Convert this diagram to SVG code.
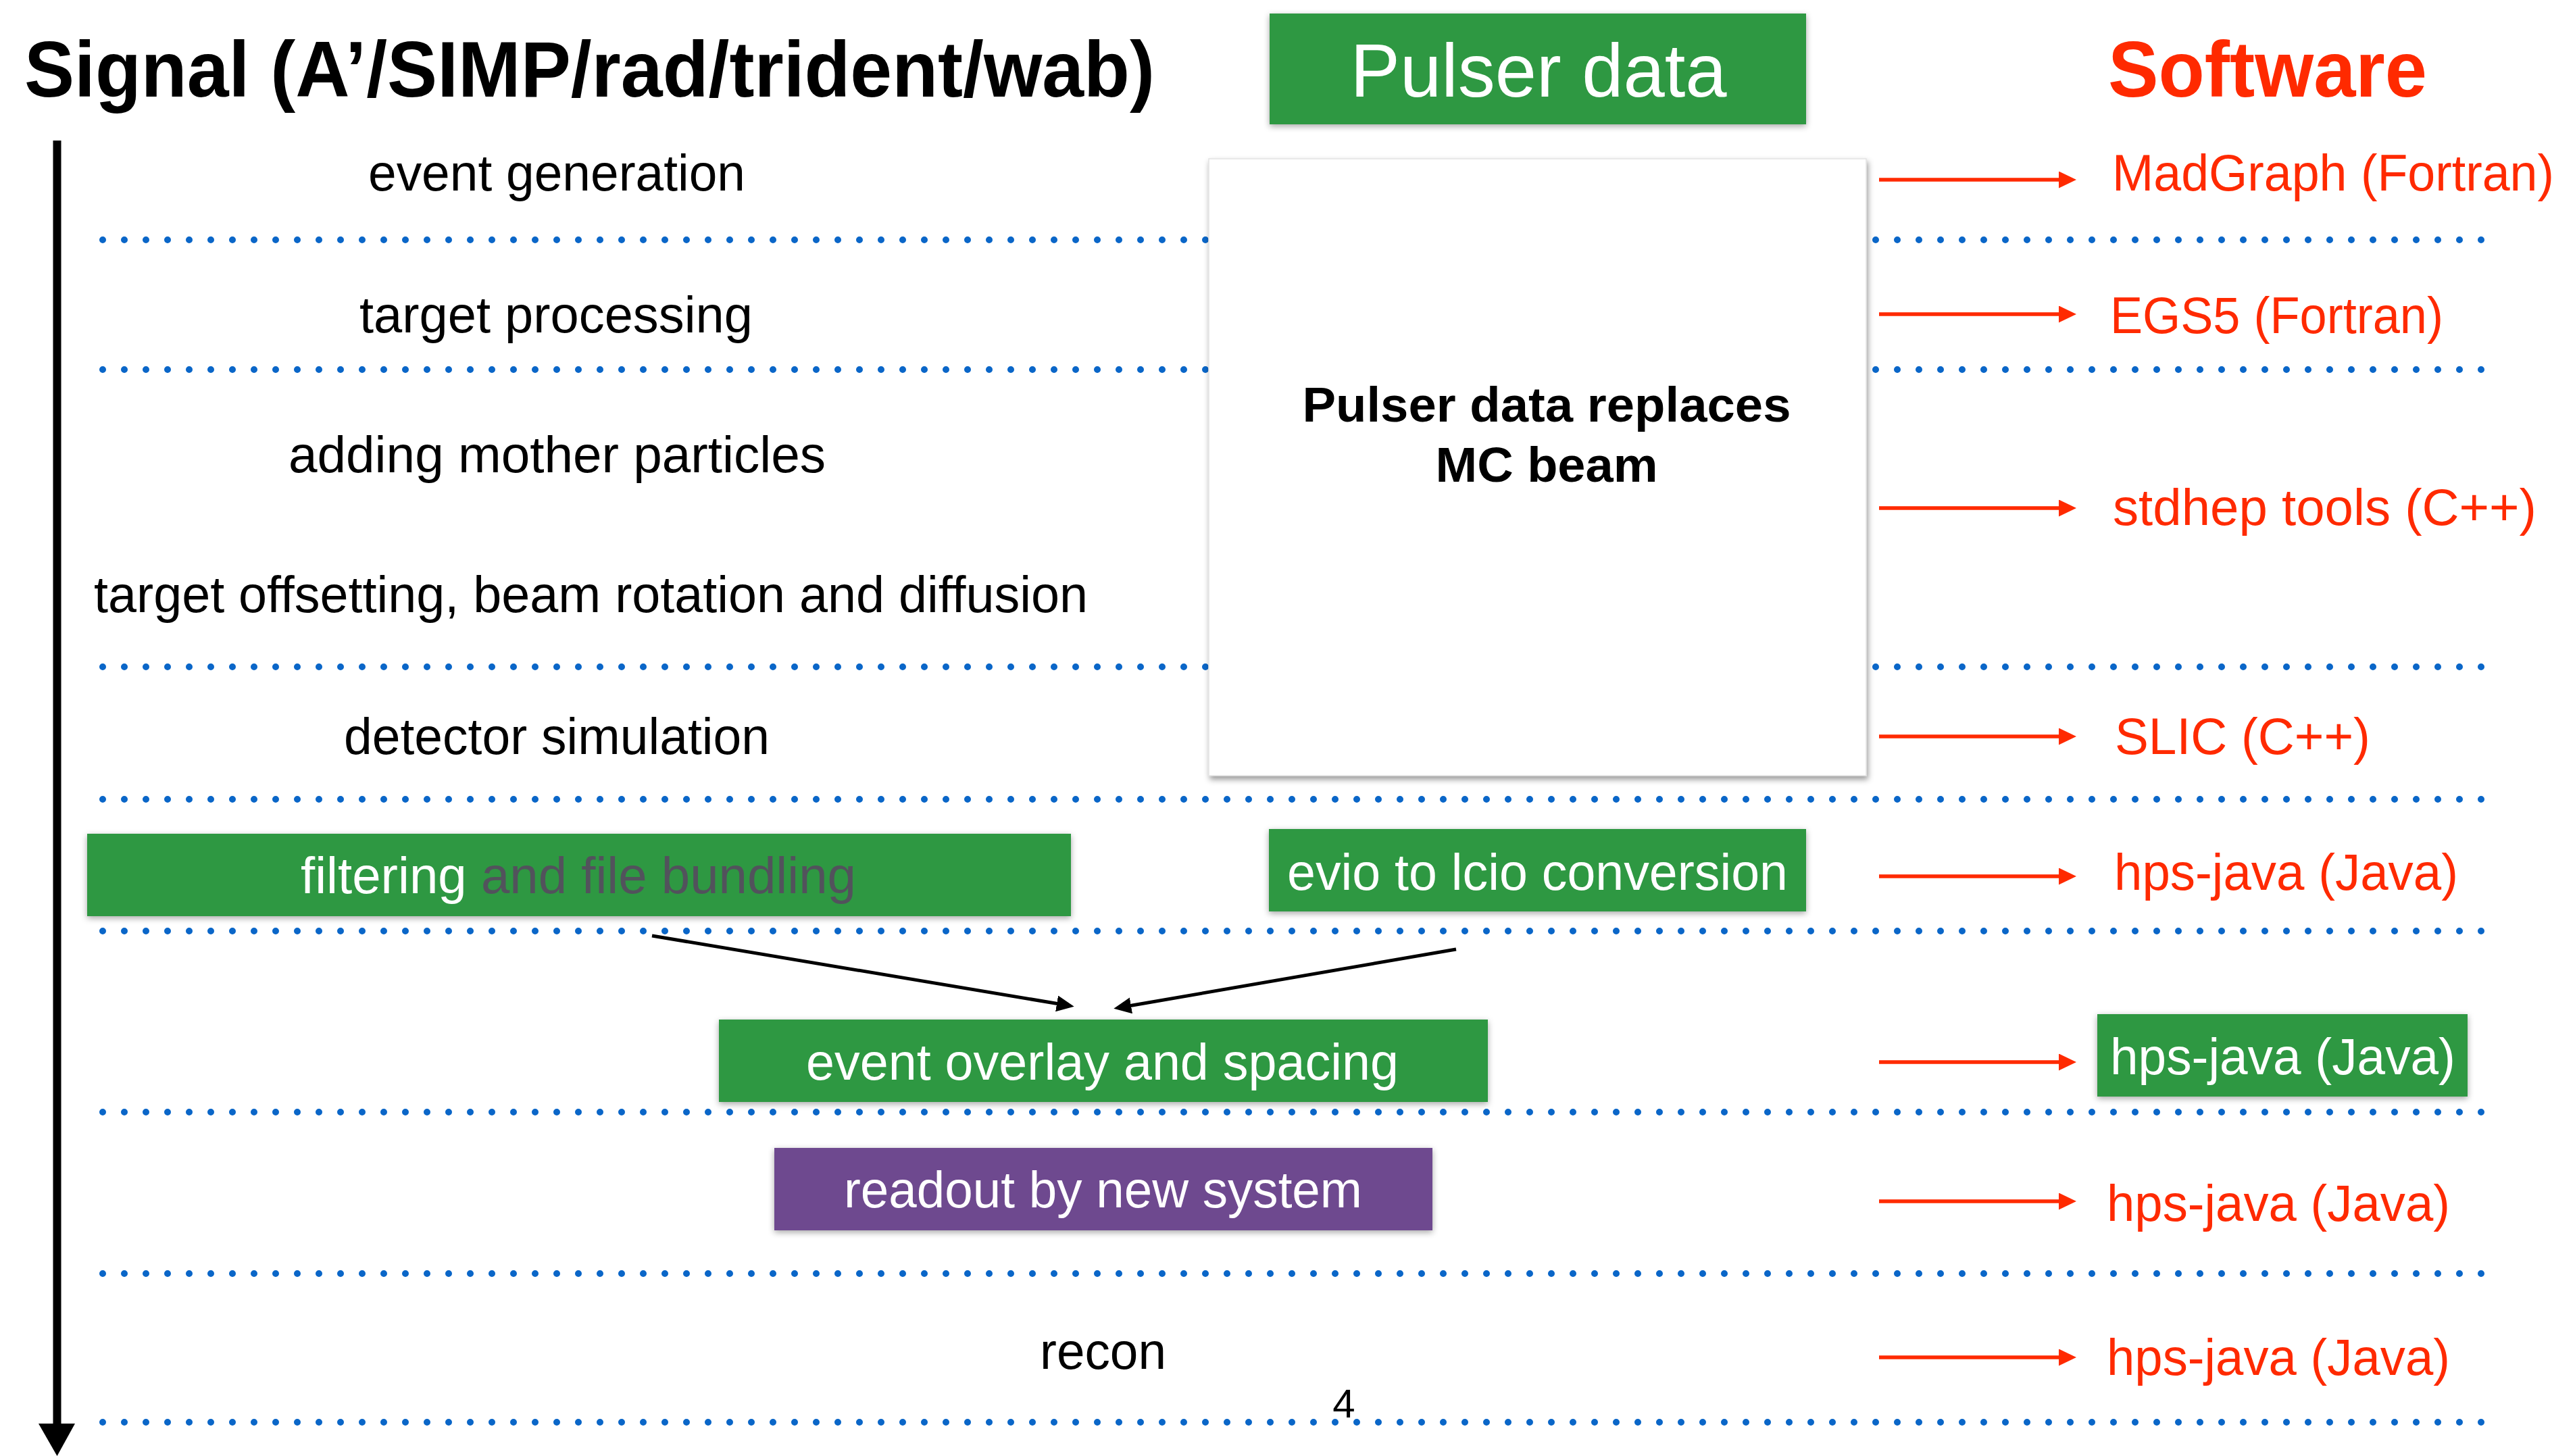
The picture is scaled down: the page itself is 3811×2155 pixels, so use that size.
<svg xmlns="http://www.w3.org/2000/svg" width="3811" height="2155" viewBox="0 0 3811 2155">
  <style>
    .title { font-family: "Liberation Sans", Arial, sans-serif; font-weight: bold; font-size: 116px; }
    .step { font-family: "Liberation Sans", Arial, sans-serif; font-size: 76px; fill: #000; }
    .soft { font-family: "Liberation Sans", Arial, sans-serif; font-size: 76px; fill: #ff2a00; }
    .onbox { font-family: "Liberation Sans", Arial, sans-serif; font-size: 76px; fill: #fff; }
    .note { font-family: "Liberation Sans", Arial, sans-serif; font-weight: bold; font-size: 72px; fill: #000; }
    .sep { stroke: #0a66c8; stroke-width: 10; stroke-linecap: round; stroke-dasharray: 0 32; fill: none; }
    .green { fill: #2f9843; }
    .purple { fill: #6e4a8f; }
    .redline { stroke: #ff2a00; stroke-width: 5.5; fill: none; }
    .blackline { stroke: #000; stroke-width: 5; fill: none; }
  </style>
  <defs>
    <filter id="boxShadow" x="-5%" y="-20%" width="110%" height="150%">
      <feDropShadow dx="0" dy="3" stdDeviation="5" flood-color="#000" flood-opacity="0.35"/>
    </filter>
    <filter id="cardShadow" x="-5%" y="-5%" width="110%" height="110%">
      <feDropShadow dx="2" dy="5" stdDeviation="4" flood-color="#000" flood-opacity="0.4"/>
    </filter>
    <marker id="redHead" markerUnits="userSpaceOnUse" markerWidth="28" markerHeight="26" refX="2" refY="12.5" orient="auto">
      <path d="M0,0 L26,12.5 L0,25 Z" fill="#ff2a00"/>
    </marker>
    <marker id="blackHead" markerUnits="userSpaceOnUse" markerWidth="28" markerHeight="26" refX="4" refY="12" orient="auto">
      <path d="M0,0 L26,12 L0,24 Z" fill="#000"/>
    </marker>
  </defs>

  <rect width="3811" height="2155" fill="#fff"/>

  <!-- column headings -->
  <text class="title" x="36" y="143" textLength="1673" lengthAdjust="spacingAndGlyphs">Signal (A’/SIMP/rad/trident/wab)</text>
  <text class="title" x="3120" y="143" fill="#ff2a00" textLength="472" lengthAdjust="spacingAndGlyphs">Software</text>

  <!-- time axis -->
  <g id="time-axis">
    <line x1="84.5" y1="208" x2="84.5" y2="2110" stroke="#000" stroke-width="12"/>
    <polygon points="57,2107 111,2107 84.5,2155" fill="#000"/>
  </g>

  <!-- stage separators -->
  <g id="separators">
    <line class="sep" x1="152" y1="355" x2="3676" y2="355"/>
    <line class="sep" x1="152" y1="547" x2="3676" y2="547"/>
    <line class="sep" x1="152" y1="987" x2="3676" y2="987"/>
    <line class="sep" x1="152" y1="1183" x2="3676" y2="1183"/>
    <line class="sep" x1="152" y1="1378" x2="3676" y2="1378"/>
    <line class="sep" x1="152" y1="1646" x2="3676" y2="1646"/>
    <line class="sep" x1="152" y1="1885" x2="3676" y2="1885"/>
    <line class="sep" x1="152" y1="2105" x2="3676" y2="2105"/>
  </g>

  <!-- simulation steps -->
  <g id="step-event-generation">
    <text class="step" x="545" y="282" textLength="558" lengthAdjust="spacingAndGlyphs">event generation</text>
  </g>
  <g id="step-target-processing">
    <text class="step" x="532" y="492" textLength="582" lengthAdjust="spacingAndGlyphs">target processing</text>
  </g>
  <g id="step-mother-particles">
    <text class="step" x="427" y="699" textLength="795" lengthAdjust="spacingAndGlyphs">adding mother particles</text>
  </g>
  <g id="step-offsetting">
    <text class="step" x="139" y="906" textLength="1471" lengthAdjust="spacingAndGlyphs">target offsetting, beam rotation and diffusion</text>
  </g>
  <g id="step-detector-simulation">
    <text class="step" x="509" y="1116" textLength="630" lengthAdjust="spacingAndGlyphs">detector simulation</text>
  </g>
  <g id="step-filtering">
    <rect class="green" x="129" y="1234" width="1456" height="122" filter="url(#boxShadow)"/>
    <text class="onbox" x="445" y="1322" textLength="822" lengthAdjust="spacingAndGlyphs">filtering <tspan fill="#52525c">and file bundling</tspan></text>
  </g>
  <g id="step-overlay">
    <rect class="green" x="1064" y="1509" width="1138" height="122" filter="url(#boxShadow)"/>
    <text class="onbox" x="1193" y="1598" textLength="877" lengthAdjust="spacingAndGlyphs">event overlay and spacing</text>
  </g>
  <g id="step-readout">
    <rect class="purple" x="1146" y="1699" width="974" height="122" filter="url(#boxShadow)"/>
    <text class="onbox" x="1249" y="1787" textLength="767" lengthAdjust="spacingAndGlyphs">readout by new system</text>
  </g>
  <g id="step-recon">
    <text class="step" x="1539" y="2026" textLength="187" lengthAdjust="spacingAndGlyphs">recon</text>
  </g>

  <!-- pulser data branch -->
  <g id="pulser-data">
    <rect class="green" x="1879" y="20" width="794" height="164" filter="url(#boxShadow)"/>
    <text x="2277" y="143" text-anchor="middle" font-family="Liberation Sans, Arial, sans-serif" font-size="112" fill="#fff" textLength="557" lengthAdjust="spacingAndGlyphs">Pulser data</text>
  </g>
  <g id="pulser-replaces">
    <rect x="1789" y="235" width="973" height="913" fill="#fff" stroke="#e2e2e2" stroke-width="1.5" filter="url(#cardShadow)"/>
    <text class="note" x="2289" y="624" text-anchor="middle" textLength="723" lengthAdjust="spacingAndGlyphs">Pulser data replaces</text>
    <text class="note" x="2289" y="713" text-anchor="middle" textLength="329" lengthAdjust="spacingAndGlyphs">MC beam</text>
  </g>
  <g id="evio-conversion">
    <rect class="green" x="1878" y="1227" width="795" height="122" filter="url(#boxShadow)"/>
    <text class="onbox" x="1905" y="1317" textLength="741" lengthAdjust="spacingAndGlyphs">evio to lcio conversion</text>
  </g>

  <!-- software column -->
  <g id="sw-madgraph">
    <text class="soft" x="3126" y="282" textLength="654" lengthAdjust="spacingAndGlyphs">MadGraph (Fortran)</text>
  </g>
  <g id="sw-egs5">
    <text class="soft" x="3123" y="493" textLength="493" lengthAdjust="spacingAndGlyphs">EGS5 (Fortran)</text>
  </g>
  <g id="sw-stdhep">
    <text class="soft" x="3127" y="777" textLength="627" lengthAdjust="spacingAndGlyphs">stdhep tools (C++)</text>
  </g>
  <g id="sw-slic">
    <text class="soft" x="3130" y="1116" textLength="378" lengthAdjust="spacingAndGlyphs">SLIC (C++)</text>
  </g>
  <g id="sw-hpsjava-conversion">
    <text class="soft" x="3129" y="1317" textLength="509" lengthAdjust="spacingAndGlyphs">hps-java (Java)</text>
  </g>
  <g id="sw-hpsjava-overlay">
    <rect class="green" x="3104" y="1501" width="548" height="122" filter="url(#boxShadow)"/>
    <text class="onbox" x="3123" y="1590" textLength="511" lengthAdjust="spacingAndGlyphs">hps-java (Java)</text>
  </g>
  <g id="sw-hpsjava-readout">
    <text class="soft" x="3118" y="1807" textLength="508" lengthAdjust="spacingAndGlyphs">hps-java (Java)</text>
  </g>
  <g id="sw-hpsjava-recon">
    <text class="soft" x="3118" y="2035" textLength="508" lengthAdjust="spacingAndGlyphs">hps-java (Java)</text>
  </g>

  <!-- connectors -->
  <g id="connectors">
    <line class="redline" x1="2781" y1="266" x2="3049" y2="266" marker-end="url(#redHead)"/>
    <line class="redline" x1="2781" y1="465" x2="3049" y2="465" marker-end="url(#redHead)"/>
    <line class="redline" x1="2781" y1="752" x2="3049" y2="752" marker-end="url(#redHead)"/>
    <line class="redline" x1="2781" y1="1090" x2="3049" y2="1090" marker-end="url(#redHead)"/>
    <line class="redline" x1="2781" y1="1297" x2="3049" y2="1297" marker-end="url(#redHead)"/>
    <line class="redline" x1="2781" y1="1572" x2="3049" y2="1572" marker-end="url(#redHead)"/>
    <line class="redline" x1="2781" y1="1778" x2="3049" y2="1778" marker-end="url(#redHead)"/>
    <line class="redline" x1="2781" y1="2009" x2="3049" y2="2009" marker-end="url(#redHead)"/>
    <line class="blackline" x1="965" y1="1385" x2="1568" y2="1486" marker-end="url(#blackHead)"/>
    <line class="blackline" x1="2155" y1="1405" x2="1670" y2="1489" marker-end="url(#blackHead)"/>
  </g>

  <!-- page number -->
  <text x="1989" y="2098" text-anchor="middle" font-family="Liberation Sans, Arial, sans-serif" font-size="60" fill="#000">4</text>
</svg>
